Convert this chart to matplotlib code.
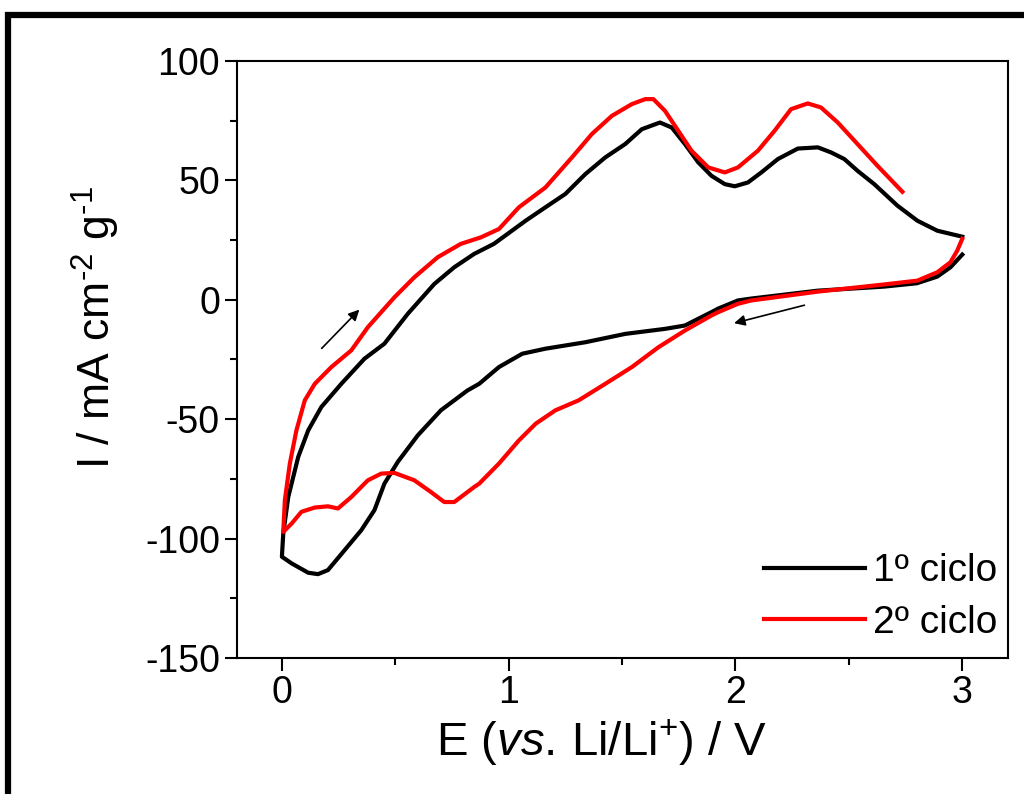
import matplotlib
matplotlib.use("Agg")
import matplotlib.pyplot as plt
from matplotlib.patches import Rectangle
from matplotlib.ticker import MultipleLocator

plt.rcParams['font.family'] = ['Liberation Sans', 'DejaVu Sans']
plt.rcParams['mathtext.fontset'] = 'custom'
plt.rcParams['mathtext.rm'] = 'Liberation Sans'
plt.rcParams['mathtext.it'] = 'Liberation Sans:italic'
plt.rcParams['axes.unicode_minus'] = False

# 1st cycle: starts at 3 V, cathodic sweep down to 0 V, then anodic back to 3 V
E1 = [3.0, 2.948, 2.89, 2.80, 2.656, 2.363, 2.07, 2.011, 1.924, 1.894, 1.777, 1.689,
      1.514, 1.338, 1.162, 1.06, 0.957, 0.870, 0.818, 0.701, 0.599, 0.511, 0.452,
      0.408, 0.350, 0.277, 0.203, 0.159, 0.116, 0.043, 0.0,
      0.006, 0.028, 0.072, 0.116, 0.174, 0.262, 0.364, 0.452, 0.555, 0.672, 0.760,
      0.848, 0.935, 1.075, 1.162, 1.250, 1.338, 1.426, 1.514, 1.587, 1.667, 1.719,
      1.777, 1.836, 1.894, 1.953, 1.997, 2.055, 2.114, 2.187, 2.275, 2.363, 2.421,
      2.480, 2.538, 2.612, 2.714, 2.802, 2.890, 3.0]
I1 = [18.9, 13.6, 9.7, 6.9, 5.5, 3.8, 0.5, -0.3, -3.7, -5.2, -10.8, -12.2,
      -14.3, -17.8, -20.5, -22.6, -28.2, -35.2, -38.0, -46.3, -56.8, -67.9, -77.0,
      -88.1, -96.5, -104.8, -113.2, -114.9, -114.3, -110.4, -107.6,
      -97.9, -82.6, -65.8, -54.7, -44.9, -35.2, -24.7, -18.4, -5.9, 6.6, 13.6,
      19.2, 23.4, 33.1, 38.7, 44.3, 52.6, 59.6, 65.2, 71.4, 74.2, 72.1,
      65.2, 57.5, 51.9, 48.4, 47.5, 49.1, 53.3, 58.9, 63.3, 63.8, 61.7,
      58.9, 54.0, 48.4, 39.4, 33.1, 28.9, 26.4]

# 2nd cycle: starts at 3 V, down to 0 V, back up to ~2.74 V
E2 = [3.0, 2.978, 2.948, 2.89, 2.802, 2.656, 2.363, 2.07, 2.011, 1.924, 1.894, 1.777,
      1.660, 1.543, 1.426, 1.309, 1.206, 1.119, 1.045, 0.957, 0.870, 0.848, 0.760,
      0.716, 0.657, 0.584, 0.496, 0.438, 0.379, 0.306, 0.247, 0.203, 0.145, 0.086,
      0.043, 0.006,
      0.013, 0.035, 0.064, 0.101, 0.145, 0.218, 0.306, 0.379, 0.496, 0.584, 0.687,
      0.789, 0.877, 0.957, 1.045, 1.162, 1.279, 1.367, 1.455, 1.543, 1.602, 1.638,
      1.689, 1.748, 1.806, 1.880, 1.953, 2.011, 2.099, 2.172, 2.245, 2.319, 2.377,
      2.451, 2.538, 2.626, 2.736]
I2 = [25.5, 20.6, 15.7, 11.5, 8.0, 6.4, 3.4, -0.3, -1.7, -5.2, -6.6, -12.9,
      -19.9, -28.2, -35.2, -42.1, -46.3, -51.9, -58.9, -68.6, -77.0, -78.4, -84.7,
      -84.7, -80.5, -75.6, -72.5, -72.8, -75.6, -82.6, -87.4, -86.5, -87.0, -88.8,
      -93.7, -97.2,
      -83.9, -68.6, -54.7, -42.1, -35.2, -28.2, -21.2, -11.5, 1.0, 9.4, 17.8,
      23.4, 26.1, 29.6, 38.7, 47.0, 59.6, 69.4, 77.0, 81.9, 84.0, 84.0,
      79.1, 70.7, 62.4, 55.4, 53.3, 55.4, 62.4, 70.7, 79.8, 82.2, 80.5,
      74.2, 65.2, 56.1, 45.2]

labels = ['1º ciclo', '2º ciclo']

fig = plt.figure(figsize=(10.24, 7.94), dpi=100)
ax = fig.add_axes([0.231, 0.1713, 0.753, 0.752])

ax.plot(E1, I1, color='black', lw=3, label=labels[0])
ax.plot(E2, I2, color='#ff0000', lw=3, label=labels[1])

# sweep direction arrows
ax.annotate('', xy=(0.35, -3.3), xytext=(0.167, -21.2),
            arrowprops=dict(arrowstyle='-|>', color='black', lw=1.2, mutation_scale=16))
ax.annotate('', xy=(1.982, -10.1), xytext=(2.316, -2.0),
            arrowprops=dict(arrowstyle='-|>', color='black', lw=1.2, mutation_scale=16))

ax.set_xlim(-0.2, 3.2)
ax.set_ylim(-150, 100)
ax.xaxis.set_major_locator(MultipleLocator(1))
ax.xaxis.set_minor_locator(MultipleLocator(0.5))
ax.yaxis.set_major_locator(MultipleLocator(50))
ax.yaxis.set_minor_locator(MultipleLocator(25))
ax.tick_params(which='both', direction='out', width=1.5, labelsize=27, pad=3)
ax.tick_params(which='major', length=9)
ax.tick_params(which='minor', length=5)
for s in ax.spines.values():
    s.set_linewidth(1.5)

ax.set_xlabel(r'E ($\mathit{vs.}\,$Li/Li$^{+}$) / V', fontsize=34, labelpad=5)
ax.xaxis.label.set_position((0.473, 0))
ax.set_ylabel(r'I / mA cm$^{\text{-2}}$ g$^{\text{-1}}$', fontsize=32)
ax.yaxis.set_label_coords(-0.148, 0.553)

ax.legend(loc='lower right', frameon=False, fontsize=28, handlelength=2.6,
          handletextpad=0.2, labelspacing=0.4, borderaxespad=0.1,
          bbox_to_anchor=(1.012, -0.004))

# thick outer frame (partially cropped)
fig.add_artist(Rectangle((0.0078, -0.1), 1.2, 1.0805, transform=fig.transFigure,
                         fill=False, lw=4.5, color='black'))

fig.savefig('out.png', dpi=100)
